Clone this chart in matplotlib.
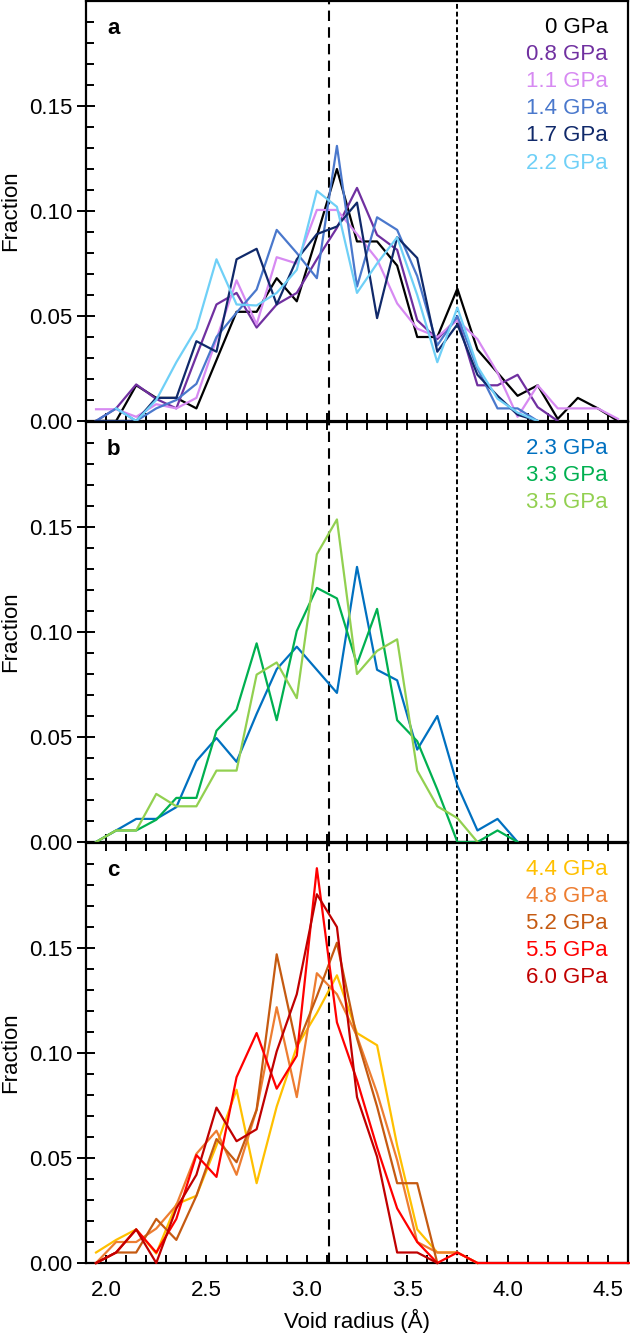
import numpy as np
import matplotlib.pyplot as plt

plt.rcParams['font.family'] = ['Liberation Sans', 'DejaVu Sans']

# bin centres of the void radius histogram (Å)
raio = np.round(np.arange(1.95, 4.70, 0.1), 2)

# painel a
p_a = ['0 GPa', '0.8 GPa', '1.1 GPa', '1.4 GPa', '1.7 GPa', '2.2 GPa']
cores_a = ['#000000', '#7030A0', '#D78AF2', '#4A78CC', '#10296A', '#6FD0F7']
f_00 = [0, 0, 0.017, 0.011, 0.011, 0.006, 0.029, 0.052, 0.052, 0.068, 0.057, 0.088, 0.120,
        0.0855, 0.0855, 0.074, 0.040, 0.040, 0.063, 0.034, 0.023, 0.012, 0.017, 0.001,
        0.011, 0.006, 0.0]
f_08 = [0, 0.006, 0.0174, 0.0105, 0.006, 0.031, 0.0555, 0.061, 0.0445, 0.0555, 0.061, 0.077,
        0.092, 0.111, 0.0886, 0.0815, 0.048, 0.039, 0.049, 0.017, 0.017, 0.022, 0.0066, 0.0]
f_11 = [0.0056, 0.0056, 0.002, 0.008, 0.006, 0.011, 0.039, 0.067, 0.046, 0.078, 0.075, 0.1005,
        0.1005, 0.089, 0.077, 0.056, 0.044, 0.040, 0.048, 0.039, 0.023, 0.002, 0.017, 0.006,
        0.006, 0.006, 0.001]
f_14 = [0, 0.006, 0.0, 0.006, 0.010, 0.0177, 0.040, 0.0516, 0.0626, 0.091, 0.080, 0.068, 0.131,
        0.064, 0.097, 0.091, 0.069, 0.036, 0.050, 0.025, 0.006, 0.006, 0.0]
f_17 = [0, 0, 0, 0.011, 0.011, 0.038, 0.033, 0.077, 0.082, 0.0555, 0.077, 0.089, 0.0926, 0.104,
        0.049, 0.0875, 0.0776, 0.033, 0.046, 0.022, 0.012, 0.003, 0.0]
f_22 = [np.nan, 0.006, 0.0, 0.010, 0.028, 0.044, 0.077, 0.0555, 0.055, 0.061, 0.072, 0.1096,
        0.102, 0.061, 0.075, 0.0875, 0.060, 0.028, 0.054, 0.026, 0.0106, 0.004, 0.0]

# painel b
p_b = ['2.3 GPa', '3.3 GPa', '3.5 GPa']
cores_b = ['#0070C0', '#00B050', '#92D050']
f_23 = [0, 0.0055, 0.011, 0.011, 0.0166, 0.0386, 0.0495, 0.0382, 0.061, 0.0823, 0.093, 0.082,
        0.071, 0.131, 0.082, 0.077, 0.044, 0.060, 0.027, 0.0055, 0.011, 0.0]
f_33 = [0, 0.0055, 0.0055, 0.0106, 0.021, 0.021, 0.053, 0.063, 0.0946, 0.058, 0.1005, 0.121,
        0.116, 0.0847, 0.111, 0.058, 0.048, 0.025, 0.0, 0.0, 0.0055, 0.0]
f_35 = [0, 0.0055, 0.0055, 0.0229, 0.017, 0.017, 0.034, 0.034, 0.0797, 0.0855, 0.0685, 0.137,
        0.1536, 0.080, 0.091, 0.0965, 0.034, 0.017, 0.0114, 0.0]

# painel c
p_c = ['4.4 GPa', '4.8 GPa', '5.2 GPa', '5.5 GPa', '6.0 GPa']
cores_c = ['#FFC000', '#ED7D31', '#C55A11', '#FF0000', '#C00000']
f_44 = [0.005, 0.011, 0.016, 0.0045, 0.028, 0.032, 0.056, 0.0825, 0.038, 0.0745, 0.103, 0.119,
        0.137, 0.1095, 0.1037, 0.056, 0.016, 0.005, 0.005, 0.0]
f_48 = [0, 0.010, 0.010, 0.0164, 0.0275, 0.052, 0.063, 0.042, 0.073, 0.1218, 0.079, 0.138,
        0.128, 0.108, 0.081, 0.049, 0.010, 0.005, 0.005, 0.0]
f_52 = [0, 0.005, 0.005, 0.021, 0.011, 0.032, 0.059, 0.048, 0.073, 0.147, 0.103, 0.127, 0.1525,
        0.107, 0.0745, 0.038, 0.038, 0.0]
f_55 = [0, 0.005, 0.016, 0.005, 0.021, 0.0514, 0.041, 0.0885, 0.1095, 0.083, 0.0987, 0.188,
        0.1146, 0.087, 0.055, 0.026, 0.010, 0.0, 0.005, 0, 0, 0, 0, 0, 0, 0, 0, 0]
f_60 = [0, 0.005, 0.016, 0.0, 0.026, 0.042, 0.074, 0.058, 0.0637, 0.1008, 0.128, 0.1756, 0.160,
        0.079, 0.0506, 0.005, 0.005, 0.0]

paineis = [('a', p_a, cores_a, [f_00, f_08, f_11, f_14, f_17, f_22]),
           ('b', p_b, cores_b, [f_23, f_33, f_35]),
           ('c', p_c, cores_c, [f_44, f_48, f_52, f_55, f_60])]

linhas_tracejadas = [3.11, 3.75]

W, H = 630, 1333
fig = plt.figure(figsize=(W / 100, H / 100), dpi=100)

esq, dir_, base, alt = 86, 628, 1263, 421
for k, (letra, nomes, cores, series) in enumerate(paineis):
    y0 = base - (2 - k) * alt
    ax = fig.add_axes([esq / W, (H - y0) / H, (dir_ - esq) / W, (alt - 1) / H])

    for nome, cor, f in zip(nomes, cores, series):
        l, = ax.plot(raio[:len(f)], f, color=cor, lw=1.6, zorder=3)
        # a linha encostada no zero fica por cima do eixo, como no original
        l.set_clip_on(False)

    ax.axvline(linhas_tracejadas[0], color='k', lw=1.5, ls=(0, (5, 3)))
    ax.axvline(linhas_tracejadas[1], color='k', lw=1.4, ls=(0, (2.5, 1.5)))

    ax.set_xlim(1.9, 4.6)
    ax.set_ylim(0, 0.2)
    ax.set_yticks([0, 0.05, 0.10, 0.15])
    ax.set_yticks(np.arange(0, 0.2, 0.01), minor=True)
    ax.set_xticks(np.arange(2.0, 4.51, 0.5))
    ax.set_xticks(np.arange(2.0, 4.61, 0.1), minor=True)
    ax.yaxis.set_major_formatter(plt.FormatStrFormatter('%.2f'))
    ax.xaxis.set_major_formatter(plt.FormatStrFormatter('%.1f'))

    ax.tick_params(axis='y', which='major', direction='inout', length=13, width=1.4,
                   labelsize=16, pad=3)
    ax.tick_params(axis='y', which='minor', direction='in', length=6, width=1.4)
    ax.tick_params(axis='x', which='both', direction='in', length=6, width=1.4,
                   top=(k > 0), labelsize=16, pad=12)
    if k < 2:
        ax.tick_params(axis='x', labelbottom=False)
    else:
        ax.set_xlabel('Void radius (Å)', fontsize=16, labelpad=6)

    for s in ax.spines.values():
        s.set_linewidth(1.6)

    ax.set_ylabel('Fraction', fontsize=16, labelpad=6)
    ax.text(0.05, 0.934, letra, transform=ax.transAxes, fontsize=16, fontweight='bold',
            ha='center', va='center')

    for j, (nome, cor) in enumerate(zip(nomes, cores)):
        ax.text(0.963, 0.938 - j * 0.0648, nome, color=cor, transform=ax.transAxes,
                fontsize=16, ha='right', va='center')

fig.savefig('out.png', dpi=100)
